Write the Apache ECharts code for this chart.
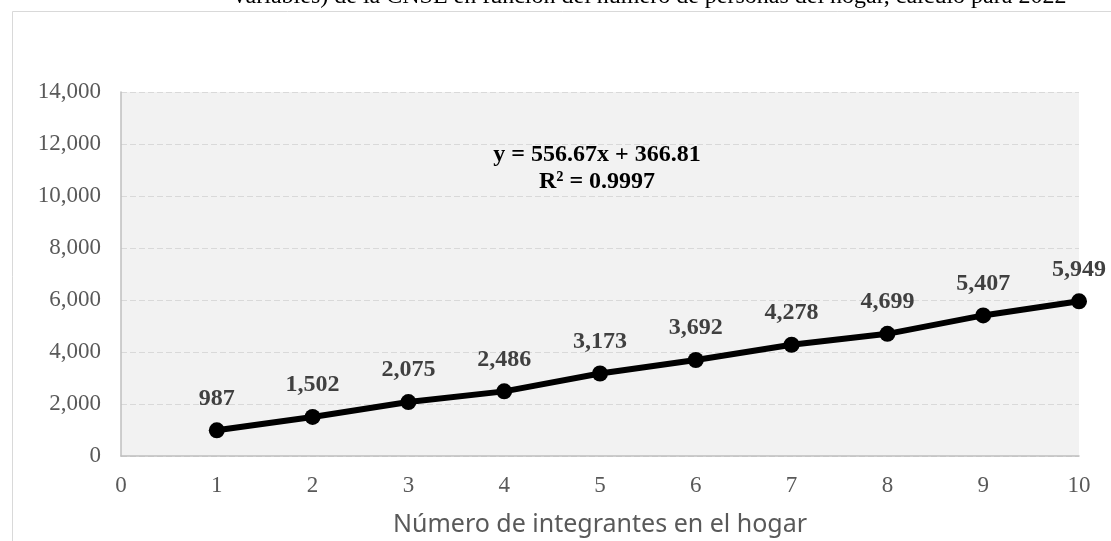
<!DOCTYPE html>
<html>
<head>
<meta charset="utf-8">
<script src="https://cdn.jsdelivr.net/npm/echarts@6/dist/echarts.min.js"></script>
<style>
html, body { margin: 0; padding: 0; background: #fff; }
#container { width: 1111px; height: 541px; }
</style>
</head>
<body>
<div id="container"></div>
<script>
// integrantes en el hogar
let personas = [1, 2, 3, 4, 5, 6, 7, 8, 9, 10]
// valores por hogar
let valores = [987, 1502, 2075, 2486, 3173, 3692, 4278, 4699, 5407, 5949]
let titulo = 'variables) de la CNSE en función del número de personas del hogar, cálculo para 2022'
let ecuacion = 'y = 556.67x + 366.81'
let r2 = 'R² = 0.9997'

let serif = '"Liberation Serif", "Times New Roman", serif'
let fmt = v => v.toLocaleString('en-US')

let mychart = echarts.init(document.getElementById('container'))

let options = {
    animation: false,
    backgroundColor: '#fff',
    graphic: {
        elements: [
            {
                type: 'rect',
                left: 10,
                top: 9,
                silent: true,
                shape: { width: 1200, height: 600 },
                style: { fill: 'none', stroke: '#d9d9d9', lineWidth: 1 }
            },
            {
                type: 'text',
                x: 650,
                y: -3,
                style: {
                    text: titulo,
                    font: '24px ' + serif,
                    fill: '#000',
                    align: 'center',
                    verticalAlign: 'middle'
                }
            },
            {
                type: 'text',
                x: 597,
                y: 168,
                style: {
                    text: ecuacion + '\n' + r2,
                    font: 'bold 24px ' + serif,
                    lineHeight: 27,
                    fill: '#000',
                    align: 'center',
                    verticalAlign: 'middle'
                }
            }
        ]
    },
    grid: {
        left: 121,
        right: 32,
        top: 92,
        bottom: 85,
        outerBoundsMode: 'none',
        show: true,
        backgroundColor: '#f2f2f2',
        borderWidth: 0
    },
    xAxis: {
        type: 'value',
        min: 0,
        max: 10,
        interval: 1,
        name: 'Número de integrantes en el hogar',
        nameLocation: 'middle',
        nameGap: 56,
        nameTextStyle: {
            color: '#595959',
            fontSize: 25,
            fontFamily: '"Noto Sans", sans-serif'
        },
        axisLine: { show: true, lineStyle: { color: '#bfbfbf', width: 1.5 } },
        axisTick: { show: false },
        axisLabel: {
            color: '#595959',
            fontSize: 23,
            fontFamily: serif,
            margin: 18
        },
        splitLine: { show: false }
    },
    yAxis: {
        type: 'value',
        min: 0,
        max: 14000,
        interval: 2000,
        axisLine: { show: true, lineStyle: { color: '#bfbfbf', width: 1.5 } },
        axisTick: { show: false },
        axisLabel: {
            color: '#595959',
            fontSize: 23,
            fontFamily: serif,
            margin: 20,
            formatter: fmt
        },
        splitLine: {
            show: true,
            lineStyle: { color: '#d9d9d9', type: [6, 3], width: 1 }
        }
    },
    series: [
        {
            type: 'line',
            data: personas.map((p, i) => [p, valores[i]]),
            symbol: 'circle',
            symbolSize: 16,
            itemStyle: { color: '#000' },
            lineStyle: { color: '#000', width: 6 },
            label: {
                show: true,
                position: 'top',
                distance: 12,
                color: '#404040',
                fontSize: 24,
                fontWeight: 'bold',
                fontFamily: serif,
                formatter: p => fmt(p.value[1])
            }
        }
    ]
}

mychart.setOption(options)
</script>
</body>
</html>
